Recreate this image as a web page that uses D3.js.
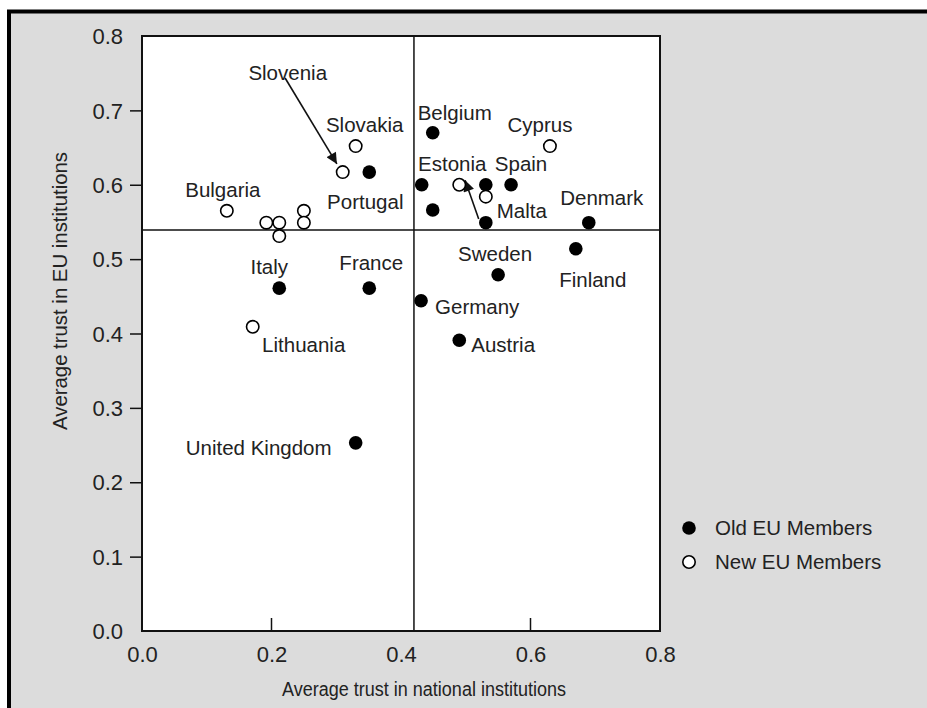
<!DOCTYPE html>
<html>
<head>
<meta charset="utf-8">
<script src="https://cdn.jsdelivr.net/npm/d3@7"></script>
<style>
  html, body { margin: 0; padding: 0; background: #fff; overflow: hidden; }
  svg { display: block; }
  text { font-family: "Liberation Sans", Arial, Helvetica, sans-serif; fill: #222; }
</style>
</head>
<body>
<script>
// ---- data ----
const countries = ["Slovenia","Slovakia","Portugal","Bulgaria","New-1","New-2","New-3","New-4","New-5",
  "Belgium","Cyprus","Old-1","Estonia","Old-2","Spain","Malta","Old-3","Old-4","Denmark","Finland",
  "Sweden","Germany","Austria","Italy","France","Lithuania","United Kingdom"];
const nationalTrust = [0.310,0.330,0.351,0.131,0.192,0.212,0.212,0.250,0.250,
  0.449,0.630,0.432,0.490,0.531,0.570,0.531,0.449,0.531,0.690,0.670,
  0.550,0.431,0.490,0.212,0.351,0.171,0.330];
const euTrust = [0.617,0.652,0.617,0.565,0.549,0.549,0.531,0.565,0.549,
  0.670,0.652,0.600,0.600,0.600,0.600,0.584,0.566,0.549,0.549,0.514,
  0.479,0.444,0.391,0.461,0.461,0.409,0.253];
const membership = ["New","New","Old","New","New","New","New","New","New",
  "Old","New","Old","New","Old","Old","New","Old","Old","Old","Old",
  "Old","Old","Old","Old","Old","New","Old"];
const showLabel = [1,1,1,1,0,0,0,0,0,1,1,0,1,0,1,1,0,0,1,1,1,1,1,1,1,1,1];
const meanNational = 0.420;
const meanEU = 0.539;
const xTicks = [0.0,0.2,0.4,0.6,0.8];
const yTicks = [0.0,0.1,0.2,0.3,0.4,0.5,0.6,0.7,0.8];
const legendLabels = ["Old EU Members","New EU Members"];
const legendGroups = ["Old","New"];
// arrows in data coordinates: [x1,y1,x2,y2]
const arrows = [[0.221,0.7435,0.301,0.628],[0.520,0.554,0.499,0.606]];
// ---- label offsets (pixels, relative to point) ----
const labelOffsets = {
  "Slovenia":[-55,-99,"middle"], "Slovakia":[9,-21,"middle"], "Portugal":[-4,30,"middle"],
  "Bulgaria":[-4,-21,"middle"], "Belgium":[22,-20,"middle"], "Cyprus":[-10,-21,"middle"],
  "Estonia":[-7,-21,"middle"], "Spain":[10,-21,"middle"], "Malta":[36,14,"middle"],
  "Denmark":[13,-25,"middle"], "Finland":[17,31,"middle"], "Sweden":[-3,-21,"middle"],
  "Germany":[14,6,"start"], "Austria":[12,5,"start"], "Italy":[-10,-21,"middle"],
  "France":[2,-25,"middle"], "Lithuania":[51,18,"middle"], "United Kingdom":[-97,5,"middle"]
};

const W = 927, H = 708;
const svg = d3.select("body").append("svg").attr("width", W).attr("height", H);

// frame
svg.append("rect").attr("x", 9).attr("y", 11.5).attr("width", W + 20).attr("height", H + 20)
  .attr("fill", "#dcdcdc").attr("stroke", "#000").attr("stroke-width", 4);

const L = 142, R = 660, T = 36, B = 631;
const x = d3.scaleLinear().domain([0, 0.8]).range([L, R]);
const y = d3.scaleLinear().domain([0, 0.8]).range([B, T]);

svg.append("rect").attr("x", L).attr("y", T).attr("width", R - L).attr("height", B - T)
  .attr("fill", "#fff");

// reference lines
svg.append("line").attr("x1", x(meanNational)).attr("x2", x(meanNational))
  .attr("y1", T).attr("y2", B).attr("stroke", "#111").attr("stroke-width", 1.5);
svg.append("line").attr("x1", L).attr("x2", R).attr("y1", y(meanEU)).attr("y2", y(meanEU))
  .attr("stroke", "#111").attr("stroke-width", 1.5);

// y axis ticks (outside) & labels
const yAxis = d3.axisLeft(y).tickValues(yTicks).tickFormat(d3.format(".1f")).tickSize(12).tickPadding(7);
const gy = svg.append("g").attr("transform", `translate(${L},0)`).call(yAxis);
gy.select(".domain").remove();
gy.selectAll(".tick line").attr("stroke", "#111").attr("stroke-width", 1.5)
  .attr("display", d => (d === 0 || d === 0.8) ? "none" : null);
gy.selectAll(".tick text").style("font-size", "22px").attr("fill", "#222").attr("dy", "0.35em");

// x axis ticks (inside) & labels
const xAxis = d3.axisBottom(x).tickValues(xTicks).tickFormat(d3.format(".1f")).tickSize(0).tickPadding(15);
const gx = svg.append("g").attr("transform", `translate(0,${B})`).call(xAxis);
gx.select(".domain").remove();
gx.selectAll(".tick text").style("font-size", "22px").attr("fill", "#222");
svg.append("g").selectAll("line").data([0.2, 0.6]).join("line")
  .attr("x1", d => x(d)).attr("x2", d => x(d)).attr("y1", B).attr("y2", B - 13)
  .attr("stroke", "#111").attr("stroke-width", 1.5);

// plot border
svg.append("rect").attr("x", L).attr("y", T).attr("width", R - L).attr("height", B - T)
  .attr("fill", "none").attr("stroke", "#111").attr("stroke-width", 2);

// titles
svg.append("text").attr("x", 424).attr("y", 696).attr("text-anchor", "middle")
  .attr("textLength", 284).attr("lengthAdjust", "spacingAndGlyphs")
  .style("font-size", "20px").text("Average trust in national institutions");
svg.append("text").attr("transform", "translate(67,291) rotate(-90)").attr("text-anchor", "middle")
  .attr("textLength", 278).attr("lengthAdjust", "spacingAndGlyphs")
  .style("font-size", "20.5px").text("Average trust in EU institutions");

// arrows
const defs = svg.append("defs");
defs.append("marker").attr("id", "ah").attr("viewBox", "0 0 10 10").attr("refX", 10).attr("refY", 5)
  .attr("markerWidth", 14).attr("markerHeight", 11).attr("markerUnits", "userSpaceOnUse")
  .attr("orient", "auto").append("path").attr("d", "M0,0 L10,5 L0,10 Z").attr("fill", "#111");
svg.append("g").selectAll("line").data(arrows).join("line")
  .attr("x1", d => x(d[0])).attr("y1", d => y(d[1])).attr("x2", d => x(d[2])).attr("y2", d => y(d[3]))
  .attr("stroke", "#111").attr("stroke-width", 1.6).attr("marker-end", "url(#ah)");

// points
const pts = countries.map((c, i) => ({c, nx: nationalTrust[i], ey: euTrust[i], g: membership[i], lab: showLabel[i]}));
svg.append("g").selectAll("circle").data(pts).join("circle")
  .attr("cx", d => x(d.nx)).attr("cy", d => y(d.ey))
  .attr("r", d => d.g === "Old" ? 6.8 : 6.2)
  .attr("fill", d => d.g === "Old" ? "#000" : "#fff")
  .attr("stroke", "#000").attr("stroke-width", d => d.g === "Old" ? 0 : 1.6);

// labels
svg.append("g").selectAll("text").data(pts.filter(d => d.lab)).join("text")
  .attr("x", d => x(d.nx) + labelOffsets[d.c][0])
  .attr("y", d => y(d.ey) + labelOffsets[d.c][1])
  .attr("dy", "0.35em")
  .attr("text-anchor", d => labelOffsets[d.c][2])
  .style("font-size", "20.5px")
  .text(d => d.c);

// legend
const lg = svg.append("g");
legendLabels.forEach((t, i) => {
  const yy = 528 + i * 34;
  lg.append("circle").attr("cx", 689).attr("cy", yy).attr("r", legendGroups[i] === "Old" ? 6.8 : 6.2)
    .attr("fill", legendGroups[i] === "Old" ? "#000" : "#fff").attr("stroke", "#000")
    .attr("stroke-width", legendGroups[i] === "Old" ? 0 : 1.6);
  lg.append("text").attr("x", 715).attr("y", yy).attr("dy", "0.35em").style("font-size", "20.5px").text(t);
});
</script>
</body>
</html>
